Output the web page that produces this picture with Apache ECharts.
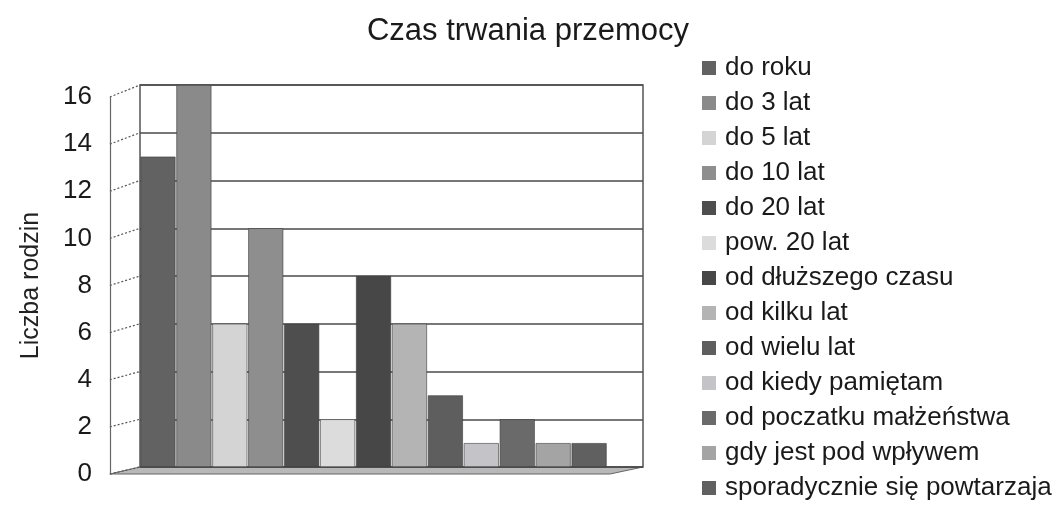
<!DOCTYPE html>
<html>
<head>
<meta charset="utf-8">
<script src="https://cdn.jsdelivr.net/npm/echarts@6/dist/echarts.min.js"></script>
<style>
    html, body { margin: 0; padding: 0; background: #fff; }
    #chart { width: 1056px; height: 510px; }
</style>
</head>
<body>
<div id="chart"></div>
<script>
const title = 'Czas trwania przemocy'
const yName = 'Liczba rodzin'
const categories = [
    'do roku', 'do 3 lat', 'do 5 lat', 'do 10 lat', 'do 20 lat', 'pow. 20 lat',
    'od dłuższego czasu', 'od kilku lat', 'od wielu lat', 'od kiedy pamiętam',
    'od poczatku małżeństwa', 'gdy jest pod wpływem', 'sporadycznie się powtarzaja'
]
const values = [13, 16, 6, 10, 6, 2, 8, 6, 3, 1, 2, 1, 1]
const colors = [
    '#626262', '#8a8a8a', '#d4d4d4', '#8e8e8e', '#4e4e4e', '#dcdcdc', '#474747',
    '#b4b4b4', '#5e5e5e', '#c4c4c8', '#6a6a6a', '#a4a4a4', '#606060'
]
const yTicks = [0, 2, 4, 6, 8, 10, 12, 14, 16]

const font = '"Liberation Sans", Arial, sans-serif'
const chart = echarts.init(document.getElementById('chart'))

// one slot per bar plus a little room at the right end of the box
const slots = categories.map((c, i) => i).concat([categories.length])

const series = categories.map((name, i) => ({
    name,
    type: 'bar',
    xAxisIndex: 0,
    yAxisIndex: 0,
    barWidth: 35,
    barGap: '-100%',
    itemStyle: {
        color: colors[i],
        borderColor: '#3a3a3a',
        borderWidth: 0.6
    },
    data: slots.map(j => (j === i ? values[i] : '-'))
}))

const option = {
    animation: false,
    color: colors,
    title: {
        text: title,
        left: 'center',
        top: 11,
        textStyle: { fontFamily: font, fontSize: 31, fontWeight: 'normal', color: '#1a1a1a' }
    },
    legend: {
        orient: 'vertical',
        left: 702,
        top: 55,
        padding: 0,
        icon: 'rect',
        itemWidth: 14,
        itemHeight: 14,
        itemGap: 9,
        itemStyle: { borderWidth: 0 },
        textStyle: { fontFamily: font, fontSize: 26, color: '#1a1a1a', padding: [0, 0, 0, 4] },
        data: categories
    },
    grid: [{
        // back wall
        left: 140,
        right: 413,
        top: 85,
        bottom: 43,
        show: true,
        borderColor: '#555',
        borderWidth: 1.5
    }, {
        // front plane, used for tick labels only
        left: 110,
        right: 446,
        top: 97,
        bottom: 36
    }],
    xAxis: [{
        type: 'category',
        gridIndex: 0,
        data: slots,
        axisLine: { show: false },
        axisTick: { show: false },
        axisLabel: { show: false }
    }, {
        type: 'category',
        gridIndex: 1,
        data: slots,
        show: false
    }],
    yAxis: [{
        type: 'value',
        gridIndex: 0,
        min: 0,
        max: 16,
        interval: 2,
        axisLine: { show: false },
        axisTick: { show: false },
        axisLabel: { show: false },
        splitLine: { lineStyle: { color: '#4a4a4a', width: 1.5 } }
    }, {
        type: 'value',
        gridIndex: 1,
        min: 0,
        max: 16,
        interval: 2,
        name: yName,
        nameLocation: 'middle',
        nameGap: 66,
        nameTextStyle: { fontFamily: font, fontSize: 25, color: '#222' },
        axisLine: { show: true, lineStyle: { color: '#666', width: 1.2 } },
        axisTick: { show: false },
        axisLabel: { fontFamily: font, fontSize: 26, color: '#1a1a1a', margin: 18 },
        splitLine: { show: false }
    }],
    series
}

chart.setOption(option)

// 3d-ish decoration: floor and slanted ticks between front and back planes
const front = v => chart.convertToPixel({ yAxisIndex: 1 }, v)
const back = v => chart.convertToPixel({ yAxisIndex: 0 }, v)
const frontX = chart.convertToPixel({ xAxisIndex: 1 }, 0) - 18
const backX = chart.convertToPixel({ xAxisIndex: 0 }, 0) - 18
const backRight = backX + 503
const graphic = [{
    type: 'polygon',
    z: -1,
    shape: {
        points: [
            [frontX, front(0)], [backRight - 33, front(0)],
            [backRight, back(0)], [backX, back(0)]
        ]
    },
    style: { fill: '#b8b8b8', stroke: '#666', lineWidth: 1 }
}].concat(yTicks.map(v => ({
    type: 'line',
    shape: { x1: frontX, y1: front(v), x2: backX, y2: back(v) },
    style: { stroke: '#555', lineWidth: 1.2, lineDash: [2, 2] }
})))
chart.setOption({ graphic })
</script>
</body>
</html>
